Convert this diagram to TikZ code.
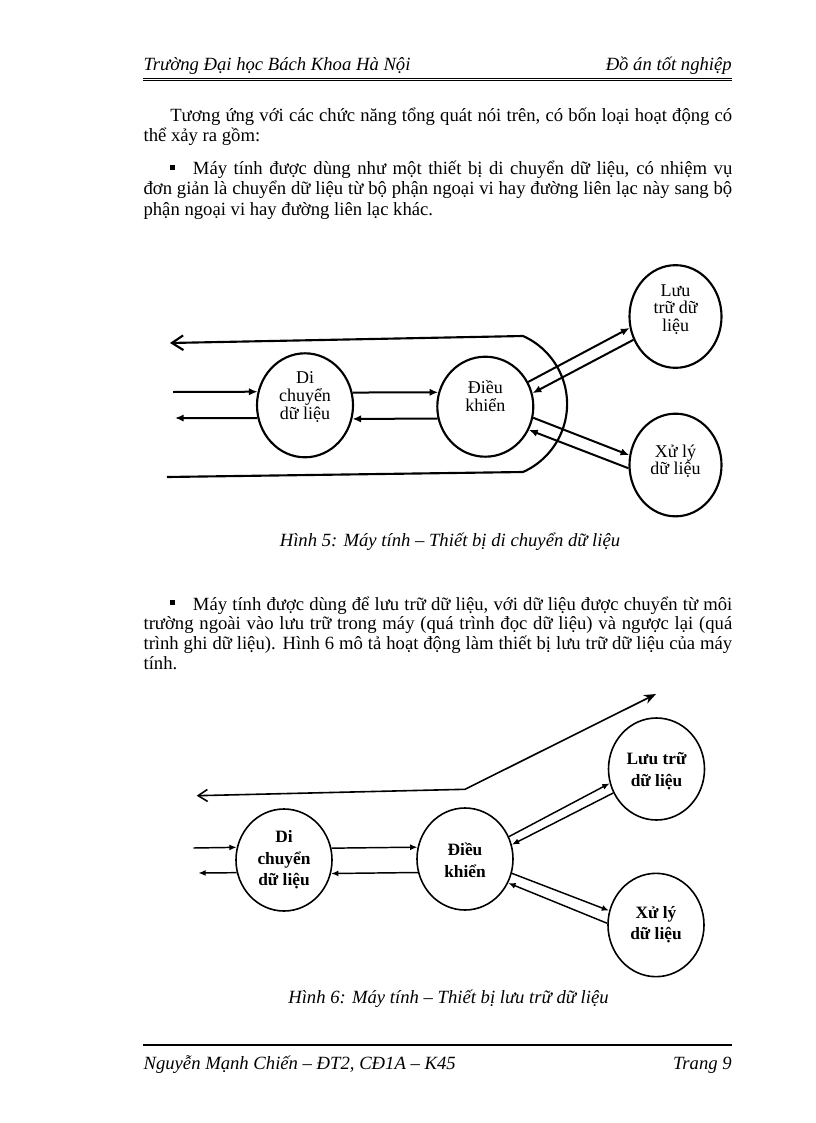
\documentclass[tikz,border=0pt]{standalone}
\usepackage{fontspec}
\setmainfont{Liberation Serif}
\usetikzlibrary{arrows.meta,shapes.geometric}
\newcommand{\CellTxt}[2]{\raisebox{#1}[\height][\depth]{\begin{tabular}{@{}c@{}}#2\end{tabular}}}
\newcommand{\JLine}[2]{\makebox[#1][s]{#2}}
\begin{document}
\begin{tikzpicture}[x=0.75pt,y=-0.75pt,
  txt/.style={inner sep=0pt,font=\fontsize{14pt}{15pt}\selectfont},
  itx/.style={inner sep=0pt,font=\fontsize{14pt}{15pt}\selectfont\itshape},
  bul/.style={fill=black,inner sep=0pt,minimum size=3.9pt},
  fiveN/.style={draw,ellipse,line width=1.6pt,inner sep=0pt,font=\fontsize{13.5pt}{13pt}\selectfont},
  sixN/.style={draw,ellipse,line width=1.2pt,inner sep=0pt,font=\fontsize{13pt}{16pt}\selectfont\bfseries},
  fiveA/.style={line width=1.5pt,-{Latex[length=6.5pt,width=5.5pt]}},
  sixA/.style={line width=1.1pt,-{Latex[length=5.5pt,width=4.5pt]}},
]
\useasboundingbox (0,0) rectangle (816,1123);

% header
\node[itx,anchor=base west] (hl) at (143.3,70.7) {Trường Đại học Bách Khoa Hà Nội};
\node[itx,anchor=base east] (hr) at (732,70.7) {Đồ án tốt nghiệp};
\coordinate (hA) at (143,78.6);
\coordinate (hB) at (732,78.6);
\coordinate (hC) at (143,80.8);
\coordinate (hD) at (732,80.8);
\draw[line width=1.2pt] (hA) -- (hB);
\draw[line width=0.5pt] (hC) -- (hD);

% text block 1
\node[txt,anchor=base west] (p1) at (170,121.7) {\JLine{421.5pt}{Tương ứng với các chức năng tổng quát nói trên, có bốn loại hoạt động có}};
\node[txt,anchor=base west] (p2) at (143.3,141.7) {thể xảy ra gồm:};
\node[bul] (b1) at (172.5,167.8) {};
\node[txt,anchor=base west] (p3) at (192.7,175) {\JLine{404.5pt}{Máy tính được dùng như một thiết bị di chuyển dữ liệu, có nhiệm vụ}};
\node[txt,anchor=base west] (p4) at (143.3,195) {\JLine{441.5pt}{đơn giản là chuyển dữ liệu từ bộ phận ngoại vi hay đường liên lạc này sang bộ}};
\node[txt,anchor=base west] (p5) at (143.3,215) {phận ngoại vi hay đường liên lạc khác.};

% figure 5
\node[fiveN,minimum width=72pt,minimum height=78pt] (D5) at (305,405.3) {\CellTxt{5.8pt}{Di\\chuyển\\dữ liệu}};
\node[fiveN,minimum width=72pt,minimum height=75pt] (K5) at (485.3,406.7) {\CellTxt{5.9pt}{Điều\\khiển}};
\node[fiveN,minimum width=69pt,minimum height=77pt] (L5) at (675.5,316.5) {\CellTxt{4.5pt}{Lưu\\trữ dữ\\liệu}};
\node[fiveN,minimum width=69pt,minimum height=77pt] (X5) at (675.5,465) {\CellTxt{2pt}{Xử lý\\dữ liệu}};

\coordinate (T5a) at (170,343);
\coordinate (T5b) at (523,336);
\coordinate (B5a) at (167,477);
\draw[line width=1.6pt,{Straight Barb[length=8.5pt,width=11pt]}-] (T5a) -- (T5b) arc[start angle=-65.9,end angle=65.9,radius=74.5] -- (B5a);

\coordinate (I5) at (173,392);
\coordinate (O5) at (175,418);
\draw[fiveA] (I5) -- (D5.164.4);
\draw[fiveA] (D5.195.6) -- (O5);
\draw[fiveA] (D5.15.6) -- (K5.163.1);
\draw[fiveA] (K5.194.4) -- (D5.344.4);
\draw[fiveA] (K5.30.7) -- (L5.194.3);
\draw[fiveA] (L5.209) -- (K5.16);
\draw[fiveA] (K5.347.5) -- (X5.168);
\draw[fiveA] (X5.184) -- (K5.332.8);

\node[itx,anchor=base] (c5) at (450,546) {Hình 5: Máy tính – Thiết bị di chuyển dữ liệu};

% text block 2
\node[bul] (b2) at (172.5,602.7) {};
\node[txt,anchor=base west] (q1) at (192.7,610) {\JLine{404.5pt}{Máy tính được dùng để lưu trữ dữ liệu, với dữ liệu được chuyển từ môi}};
\node[txt,anchor=base west] (q2) at (143.3,629.5) {\JLine{441.5pt}{trường ngoài vào lưu trữ trong máy (quá trình đọc dữ liệu) và ngược lại (quá}};
\node[txt,anchor=base west] (q3) at (143.3,649.3) {\JLine{441.5pt}{trình ghi dữ liệu). Hình 6 mô tả hoạt động làm thiết bị lưu trữ dữ liệu của máy}};
\node[txt,anchor=base west] (q4) at (143.3,669.3) {tính.};

% figure 6
\node[sixN,minimum width=72pt,minimum height=76.5pt] (D6) at (284,860) {\CellTxt{0pt}{Di\\chuyển\\dữ liệu}};
\node[sixN,minimum width=72pt,minimum height=76.5pt] (K6) at (465,859) {\CellTxt{-2.4pt}{Điều\\khiển}};
\node[sixN,minimum width=72pt,minimum height=76.5pt] (L6) at (656.5,769) {\CellTxt{-1.6pt}{Lưu trữ\\dữ liệu}};
\node[sixN,minimum width=72pt,minimum height=77.5pt] (X6) at (656,925) {\CellTxt{0pt}{Xử lý\\dữ liệu}};

\coordinate (T6a) at (196.7,795.7);
\coordinate (T6m) at (465,789.3);
\coordinate (T6b) at (656,694);
\draw[line width=1.2pt,{Straight Barb[length=7pt,width=9pt]}-{Stealth[length=9pt,width=7pt]}] (T6a) -- (T6m) -- (T6b);

\coordinate (I6) at (193.3,848);
\coordinate (O6) at (198.3,873);
\draw[sixA] (I6) -- (D6.165.6);
\draw[sixA] (D6.195.3) -- (O6);
\draw[sixA] (D6.14.4) -- (K6.166.8);
\draw[sixA] (K6.196.9) -- (D6.344.7);
\draw[sixA] (K6.27.7) -- (L6.197.3);
\draw[sixA] (L6.209.3) -- (K6.17);
\draw[sixA] (K6.343.5) -- (X6.163.3);
\draw[sixA] (X6.178) -- (K6.331.1);

\node[itx,anchor=base] (c6) at (448.5,1003) {Hình 6: Máy tính – Thiết bị lưu trữ dữ liệu};

% footer
\coordinate (fA) at (143,1045);
\coordinate (fB) at (732,1045);
\draw[line width=0.9pt] (fA) -- (fB);
\node[itx,anchor=base west] (fl) at (143.3,1069) {Nguyễn Mạnh Chiến – ĐT2, CĐ1A – K45};
\node[itx,anchor=base east] (fr) at (732,1069) {Trang 9};
\end{tikzpicture}
\end{document}
